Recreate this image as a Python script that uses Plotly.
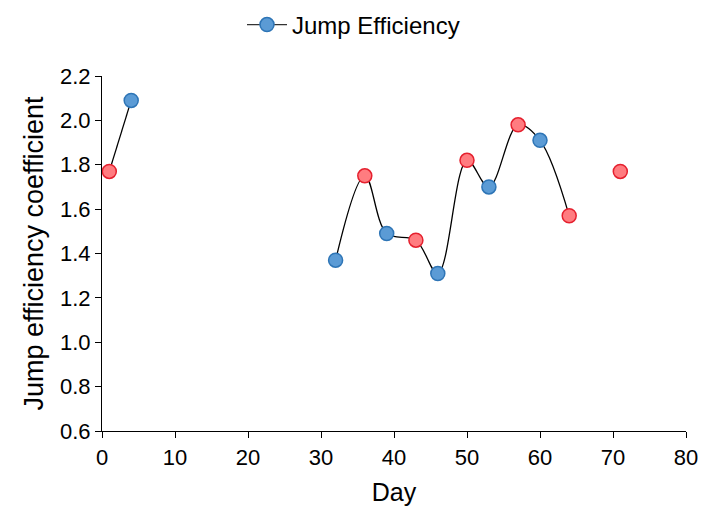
import plotly.graph_objects as go

days = [1, 4, None, 32, 36, 39, 43, 46, 50, 53, 57, 60, 64, None, 71]
eff = [1.77, 2.09, None, 1.37, 1.75, 1.49, 1.46, 1.31, 1.82, 1.70, 1.98, 1.91, 1.57, None, 1.77]
kind = ["r", "b", None, "b", "r", "b", "r", "b", "r", "b", "r", "b", "r", None, "r"]

BLUE_FILL, BLUE_EDGE = "#5B9BD5", "#2E75B6"
RED_FILL, RED_EDGE = "#FF7C80", "#E5202E"

fig = go.Figure()
fig.add_trace(go.Scatter(x=days, y=eff, mode="lines", line=dict(color="black", width=1.3, shape="spline"),
                         connectgaps=False, showlegend=False, hoverinfo="skip"))
for k, fill, edge in [("b", BLUE_FILL, BLUE_EDGE), ("r", RED_FILL, RED_EDGE)]:
    xs = [d for d, kk in zip(days, kind) if kk == k]
    ys = [v for v, kk in zip(eff, kind) if kk == k]
    fig.add_trace(go.Scatter(x=xs, y=ys, mode="markers",
                             marker=dict(size=14, color=fill, line=dict(color=edge, width=1.5)),
                             showlegend=False))
fig.add_trace(go.Scatter(x=[None], y=[None], mode="lines+markers", name="Jump Efficiency",
                         line=dict(color="#333333", width=1.3),
                         marker=dict(size=14, color=BLUE_FILL, line=dict(color=BLUE_EDGE, width=1.5))))

font = "Liberation Sans, Arial, sans-serif"
fig.update_layout(
    width=707, height=510,
    margin=dict(l=102, r=21, t=76, b=79, autoexpand=False),
    plot_bgcolor="white", paper_bgcolor="white",
    font=dict(family=font, color="black", size=22),
    legend=dict(orientation="h", x=0.5, xanchor="center", xref="container",
                y=1 - 25 / 510, yanchor="middle", yref="container",
                font=dict(size=24), itemwidth=40),
    xaxis=dict(range=[0, 80], dtick=10, showgrid=False, zeroline=False,
               showline=True, linecolor="black", linewidth=1.2,
               ticks="outside", ticklen=6, tickcolor="black", tickwidth=1.2,
               title=dict(text="Day", font=dict(size=25), standoff=14),
               tickfont=dict(size=22)),
    yaxis=dict(range=[0.6, 2.2], dtick=0.2, tickformat=".1f", showgrid=False, zeroline=False,
               showline=True, linecolor="black", linewidth=1.2,
               ticks="outside", ticklen=6, tickcolor="black", tickwidth=1.2,
               title=dict(text="Jump efficiency coefficient", font=dict(size=27), standoff=8),
               tickfont=dict(size=22)),
)
fig.write_html("out.html")
